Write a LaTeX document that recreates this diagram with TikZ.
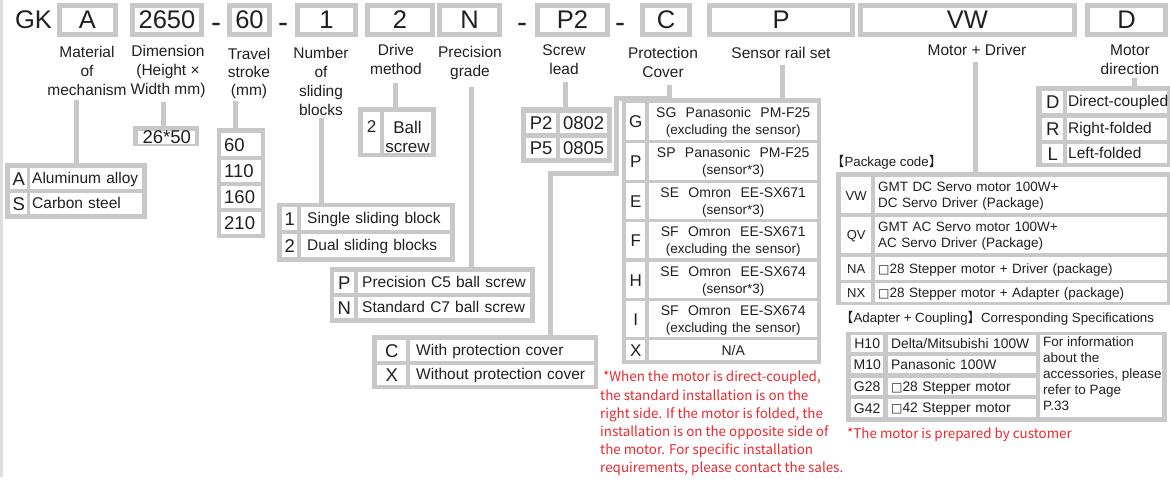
\documentclass[tikz,border=0pt]{standalone}
\usepackage{fontspec}
\setmainfont{Liberation Sans}
\newfontfamily\cjk{Noto Sans CJK SC}
\newfontfamily\djv{DejaVu Sans}
\definecolor{gbox}{RGB}{200,200,200}
\definecolor{txt}{RGB}{35,31,32}
\definecolor{redt}{RGB}{236,40,46}
\definecolor{lgray}{RGB}{222,222,222}
\newcommand\fm{\fontsize{15.5}{19}\selectfont}
\newcommand\fn{\fontsize{18.5}{21}\selectfont}
\newcommand\ftop{\fontsize{25.5}{30}\selectfont}
\newcommand\fdash{\fontsize{30}{30}\selectfont}
\newcommand\fdr{\fontsize{17}{19}\selectfont}
\newcommand\fsl{\fontsize{17}{19}\selectfont}
\newcommand\fsa{\fontsize{14}{17}\selectfont}
\newcommand\fsb{\fontsize{13.5}{17}\selectfont}
\newcommand\fpk{\fontsize{13.5}{16}\selectfont}
\newcommand\fhd{\fontsize{13.3}{16}\selectfont}
\newcommand\fpc{\fontsize{13}{15}\selectfont}
\newcommand\fac{\fontsize{14}{16}\selectfont}
\newcommand\fad{\fontsize{13.8}{16}\selectfont}
\newcommand\finf{\fontsize{13.5}{15.8}\selectfont}
\newcommand\fred{\cjk\fontsize{13.4}{18.2}\selectfont}
\newcommand\sts{\rule[-2pt]{0pt}{14pt}}
\newcommand\one[1]{\mbox{\sts#1}}
\newcommand\sq{{\djv\fontsize{12}{12}\selectfont □}}
\def\cpad{2}
\tikzset{
  conn/.style={draw=gbox, line width=5pt},
  topbox/.style={draw=gbox, line width=5pt, fill=white, inner sep=0pt, font=\ftop, text=txt},
  plain/.style={inner sep=0pt, text=txt},
  dashmark/.style={inner sep=0pt, text=txt, font=\fdash, anchor=base},
  lab/.style={align=center, font=\fm, text=txt, inner sep=0pt},
  frm/.style={fill=gbox, inner sep=0pt, anchor=north west},
  cel/.style={fill=white, inner ysep=0pt, anchor=north west, font=\fm, text=txt, align=left},
}
\newcommand\tbox[4]{\pgfmathsetmacro\tbw{#3-#2-5}\pgfmathsetmacro\tbx{(#2+#3)/2}%
  \node[topbox, minimum width=\tbw pt, minimum height=29pt] (#1) at (\tbx,20) {#4};}
\newcommand\frm[5]{\pgfmathsetmacro\fw{#4-#2}\pgfmathsetmacro\fhh{#5-#3}%
  \node[frm, minimum width=\fw pt, minimum height=\fhh pt] (#1) at (#2,#3) {};}
\newcommand\cel[7][]{\pgfmathsetmacro\cw{#5-#3}\pgfmathsetmacro\ctw{#5-#3-2*\cpad}\pgfmathsetmacro\chh{#6-#4}%
  \node[cel, inner xsep=\cpad pt, minimum width=\cw pt, text width=\ctw pt, minimum height=\chh pt, #1] (#2) at (#3,#4) {#7};}
\begin{document}
\begin{tikzpicture}[x=1pt,y=-1pt]
\useasboundingbox (0,0) rectangle (1170,481);
\fill[white] (0,0) rectangle (1170,481);
\draw[lgray, line width=3pt] (1.5,0) -- (1.5,477);

% ---------- top code row ----------
\node[plain, font=\ftop] (gk) at (33.5,20) {GK};
\tbox{bMat}{57}{118}{A}
\tbox{bDim}{130}{204}{2650}
\node[dashmark] (dashA) at (216,32.8) {-};
\tbox{bTrav}{227}{272}{60}
\node[dashmark] (dashB) at (283,32.8) {-};
\tbox{bSlid}{295}{358}{1}
\tbox{bDrive}{365}{435}{2}
\tbox{bPrec}{437}{502}{N}
\node[dashmark] (dashC) at (522,32.8) {-};
\tbox{bScrew}{535}{610}{P2}
\node[dashmark] (dashD) at (620,32.8) {-};
\tbox{bProt}{640}{692}{C}
\tbox{bSens}{707}{855}{P}
\tbox{bMD}{858}{1077}{VW}
\tbox{bDir}{1085}{1168}{D}

% ---------- labels ----------
\node[lab] (labMat) at (87,71) {Material\\of\\mechanism};
\node[lab] (labDim) at (168,71) {Dimension\\(Height ×\\Width mm)};
\node[lab, font=\fontsize{15.5}{18}\selectfont] (labTrav) at (249,73) {Travel\\stroke\\(mm)};
\node[lab] (labSlid) at (321,81.5) {Number\\of\\sliding\\blocks};
\node[lab] (labDrive) at (396,59.5) {Drive\\method};
\node[lab] (labPrec) at (470,62.5) {Precision\\grade};
\node[lab] (labScrew) at (564,59.5) {Screw\\lead};
\node[lab] (labProt) at (663,62.5) {Protection\\Cover};
\node[lab] (labSens) at (781,53) {Sensor rail set};
\node[lab] (labMD) at (977,50) {Motor + Driver};
\node[lab] (labDir) at (1130,60) {Motor\\direction};

% ---------- Material ----------
\frm{tMat}{5}{163}{147}{219}
\cel[align=center, font=\fn]{mA}{10}{168}{27}{189}{A}
\cel{mAt}{30}{168}{142}{189}{\one{Aluminum alloy}}
\cel[align=center, font=\fn]{mS}{10}{193}{27}{214}{S}
\cel{mSt}{30}{193}{142}{214}{\one{Carbon steel}}

% ---------- Dimension ----------
\frm{tDim}{133}{126}{199}{146}
\cel[align=center, font=\fn]{dimC}{138}{130.5}{195}{142.5}{26*50}

% ---------- Travel ----------
\def\cpad{3}
\frm{tTrav}{217}{128}{265}{238}
\cel[font=\fn]{tr60}{221}{133}{261}{156}{60}
\cel[font=\fn]{tr110}{221}{160}{261}{182}{110}
\cel[font=\fn]{tr160}{221}{186}{261}{208}{160}
\cel[font=\fn]{tr210}{221}{212}{261}{234}{210}

% ---------- Sliding blocks ----------
\def\cpad{2}
\frm{tSlid}{277}{203}{455}{262}
\cel[align=center, font=\fn]{s1}{282}{207}{297}{230}{1}
\cel[align=center, font=\fn]{s2}{282}{234}{297}{257}{2}
\def\cpad{6}
\cel{s1t}{301}{207}{450}{230}{\one{Single sliding block}}
\cel{s2t}{301}{234}{450}{257}{\one{Dual sliding blocks}}

% ---------- Drive ----------
\def\cpad{2}
\frm{tDrive}{358}{107}{436}{157}
\cel{dr2}{363}{112}{380}{153}{}
\cel{drB}{384}{112}{431}{153}{}
\node[plain, font=\fdr] (dr2t) at (371.5,127) {2};
\node[plain, align=center, font=\fdr] (drBt) at (407.5,137) {Ball\\screw};

% ---------- Precision ----------
\frm{tPrec}{330}{267}{535}{323}
\cel[align=center, font=\fn]{pP}{334}{272}{354}{293}{P}
\cel[align=center, font=\fn]{pN}{334}{297}{354}{318}{N}
\def\cpad{4}
\cel{pPt}{358}{272}{530}{293}{\one{Precision C5 ball screw}}
\cel{pNt}{358}{297}{530}{318}{\one{Standard C7 ball screw}}

% ---------- Screw lead ----------
\def\cpad{1}
\frm{tScrew}{521}{107}{612}{163}
\cel[align=center, font=\fn]{sc2}{526}{113}{556}{133}{P2}
\cel[align=center, font=\fn]{sc2v}{560}{113}{607}{133}{0802}
\cel[align=center, font=\fn]{sc5}{526}{138}{556}{158}{P5}
\cel[align=center, font=\fn]{sc5v}{560}{138}{607}{158}{0805}

% ---------- Protection cover ----------
\def\cpad{2}
\frm{tCov}{372}{335}{598}{389}
\cel[align=center, font=\fn]{cvC}{377}{340}{406}{361}{C}
\cel[align=center, font=\fn]{cvX}{377}{365}{406}{385}{X}
\def\cpad{6}
\cel{cvCt}{410}{340}{594}{361}{\one{With protection cover}}
\cel{cvXt}{410}{365}{594}{385}{\one{Without protection cover}}

% ---------- Sensor rail set ----------
\def\cpad{1}
\frm{tSens}{622}{98}{821}{364}
\cel[align=center, font=\fsl]{seG}{626}{103}{645}{140}{G}
\cel[align=center, font=\fsl]{seP}{626}{143}{645}{180}{P}
\cel[align=center, font=\fsl]{seE}{626}{183}{645}{219}{E}
\cel[align=center, font=\fsl]{seF}{626}{222}{645}{258}{F}
\cel[align=center, font=\fsl]{seH}{626}{262}{645}{298}{H}
\cel[align=center, font=\fsl]{seI}{626}{301}{645}{337}{I}
\cel[align=center, font=\fsl]{seX}{626}{340}{645}{360}{X}
\cel[align=center, font=\fsa]{seGt}{649}{103}{817}{140}{\sts SG~~Panasonic~~PM-F25\\{\fsb(excluding the sensor)}\sts}
\cel[align=center, font=\fsa]{sePt}{649}{143}{817}{180}{\sts SP~~Panasonic~~PM-F25\\{\fsb(sensor*3)}\sts}
\cel[align=center, font=\fsa]{seEt}{649}{183}{817}{219}{\sts SE~~Omron~~EE-SX671\\{\fsb(sensor*3)}\sts}
\cel[align=center, font=\fsa]{seFt}{649}{222}{817}{258}{\sts SF~~Omron~~EE-SX671\\{\fsb(excluding the sensor)}\sts}
\cel[align=center, font=\fsa]{seHt}{649}{262}{817}{298}{\sts SE~~Omron~~EE-SX674\\{\fsb(sensor*3)}\sts}
\cel[align=center, font=\fsa]{seIt}{649}{301}{817}{337}{\sts SF~~Omron~~EE-SX674\\{\fsb(excluding the sensor)}\sts}
\cel[align=center, font=\fsa]{seXt}{649}{340}{817}{360}{\one{N/A}}

% ---------- Motor direction ----------
\def\cpad{2}
\frm{tDir}{1036}{86}{1170}{167}
\cel[align=center, font=\fn]{diD}{1042}{91}{1063}{113}{D}
\cel[align=center, font=\fn]{diR}{1042}{118}{1063}{140}{R}
\cel[align=center, font=\fn]{diL}{1042}{144}{1063}{163}{L}
\def\cpad{1}
\cel{diDt}{1067}{91}{1167}{113}{\one{Direct-coupled}}
\cel{diRt}{1067}{118}{1167}{140}{\one{Right-folded}}
\cel{diLt}{1067}{144}{1167}{163}{\one{Left-folded}}

% ---------- Package code ----------
\node[plain, anchor=west, font=\fhd] (pkgHead) at (831,162) {{\cjk 【}Package code{\cjk 】}};
\def\cpad{1}
\frm{tPkg}{836}{172}{1170}{305}
\cel[align=center, font=\fpc]{pkVW}{841}{177}{871}{213}{\one{VW}}
\cel[align=center, font=\fpc]{pkQV}{841}{217}{871}{253}{\one{QV}}
\cel[align=center, font=\fpc]{pkNA}{841}{257}{871}{280}{\one{NA}}
\cel[align=center, font=\fpc]{pkNX}{841}{283}{871}{302}{\one{NX}}
\def\cpad{3}
\cel[font=\fpk]{pkVWt}{875}{177}{1167}{213}{\sts GMT DC Servo motor 100W+\\DC Servo Driver (Package)\sts}
\cel[font=\fpk]{pkQVt}{875}{217}{1167}{253}{\sts GMT AC Servo motor 100W+\\AC Servo Driver (Package)\sts}
\cel[font=\fpk]{pkNAt}{875}{257}{1167}{280}{\one{\sq28 Stepper motor + Driver (package)}}
\cel[font=\fpk]{pkNXt}{875}{283}{1167}{302}{\one{\sq28 Stepper motor + Adapter (package)}}

% ---------- Adapter + Coupling ----------
\node[plain, anchor=west, font=\fhd] (adHead) at (840,318) {{\cjk 【}Adapter + Coupling{\cjk 】}Corresponding Specifications};
\frm{tAdp}{846}{332}{1167}{422}
\def\cpad{1}
\cel[align=center, font=\fac]{adH}{851}{335}{883}{352}{\one{H10}}
\cel[align=center, font=\fac]{adM}{851}{356}{883}{373}{\one{M10}}
\cel[align=center, font=\fac]{adG2}{851}{378}{883}{395}{\one{G28}}
\cel[align=center, font=\fac]{adG4}{851}{399}{883}{417}{\one{G42}}
\def\cpad{3}
\cel[font=\fad]{adHt}{888}{335}{1036}{352}{\one{Delta/Mitsubishi 100W}}
\cel[font=\fad]{adMt}{888}{356}{1036}{373}{\one{Panasonic 100W}}
\cel[font=\fad]{adG2t}{888}{378}{1036}{395}{\one{\sq28 Stepper motor}}
\cel[font=\fad]{adG4t}{888}{399}{1036}{417}{\one{\sq42 Stepper motor}}
\cel{adInfo}{1040}{335}{1162}{417}{}
\node[plain, anchor=north west, align=left, font=\finf] (adInfoT) at (1043,337) {For information\\about the\\accessories, please\\refer to Page\\P.33};

% ---------- red notes ----------
\node[inner sep=0pt, anchor=north west, align=left, font=\fred, text=redt] (noteA) at (600,371)
 {\hspace*{3pt}*When the motor is direct-coupled,\\the standard installation is on the\\right side. If the motor is folded, the\\installation is on the opposite side of\\the motor. For specific installation\\requirements, please contact the sales.};
\node[inner sep=0pt, anchor=base west, font=\fred, text=redt] (noteB) at (847,438) {*The motor is prepared by customer};

% ---------- connectors ----------
\coordinate (cMat) at (76.5,100);
\coordinate (cDim) at (163.5,102);
\coordinate (cTrav) at (235.5,101);
\coordinate (cSlid) at (321,118);
\coordinate (cDrive) at (395,83);
\coordinate (cPrec) at (471.5,87);
\coordinate (cScrew) at (565,82);
\coordinate (cProt) at (669,85);
\coordinate (cProtA) at (616.5,98.5);
\coordinate (cProtB) at (550,174);
\coordinate (cSens) at (782,65);
\coordinate (cMD) at (975,62);
\coordinate (cDir) at (1134,78);
\draw[conn] (cMat) -- (cMat |- tMat.north);
\draw[conn] (cDim) -- (cDim |- tDim.north);
\draw[conn] (cTrav) -- (cTrav |- tTrav.north);
\draw[conn] (cSlid) -- (cSlid |- tSlid.north);
\draw[conn] (cDrive) -- (cDrive |- tDrive.north);
\draw[conn] (cPrec) -- (cPrec |- tPrec.north);
\draw[conn] (cScrew) -- (cScrew |- tScrew.north);
\draw[conn] (cProt) |- (cProtA) |- (cProtB) -- (cProtB |- tCov.north);
\draw[conn] (cSens) -- (cSens |- tSens.north);
\draw[conn] (cMD) -- (cMD |- tPkg.north);
\draw[conn] (cDir) -- (cDir |- tDir.north);
\end{tikzpicture}
\end{document}
